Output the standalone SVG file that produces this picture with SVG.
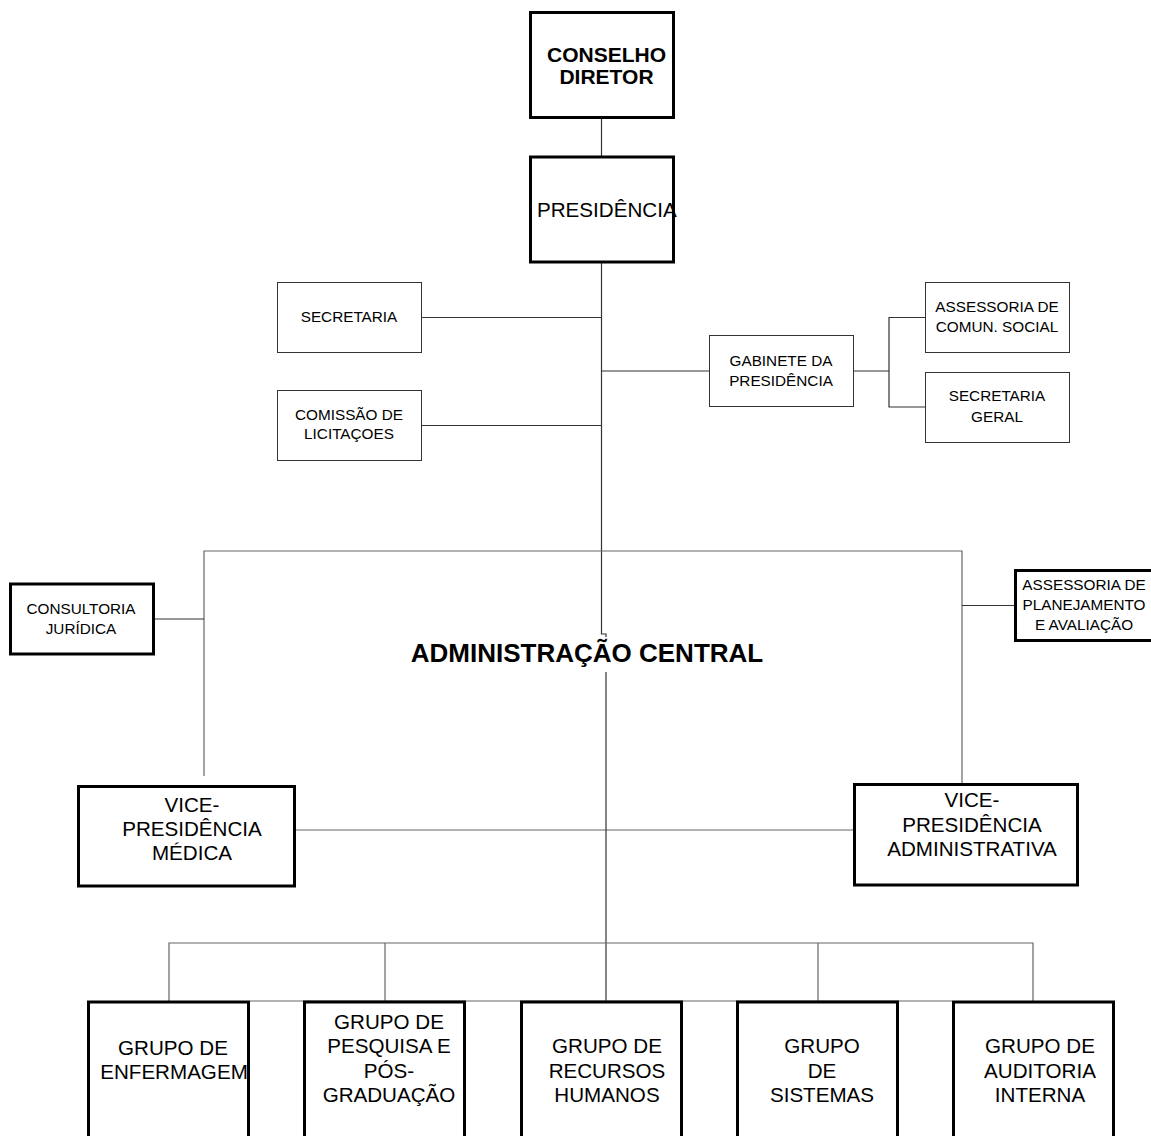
<svg xmlns="http://www.w3.org/2000/svg" width="1151" height="1136" viewBox="0 0 1151 1136">
<style>
text{font-family:"Liberation Sans",Arial,Helvetica,sans-serif;fill:#000;text-anchor:middle}
.s{font-size:15.3px}
.m{font-size:20.6px}
.b{font-weight:bold}
.thick{fill:#fff;stroke:#000;stroke-width:3}
.thin{fill:#fff;stroke:#333;stroke-width:1}
.c{fill:none;stroke:#333;stroke-width:1.2}
.g{fill:none;stroke:#666;stroke-width:1.2}
</style>
<rect width="1151" height="1136" fill="#fff"/>
<g id="connectors">
<path class="c" d="M601.5,118 V156"/>
<path class="c" d="M601.5,263 V634 H606 V637"/>
<path class="c" d="M422,317.5 H601.5"/>
<path class="c" d="M422,425.5 H601.5"/>
<path class="c" d="M601.5,371 H709"/>
<path class="c" d="M854,371 H889"/>
<path class="c" d="M925,317.5 H889 V407 H925"/>
<path class="g" d="M204,776 V551 H962 V783"/>
<path class="c" d="M155,619 H204"/>
<path class="c" d="M962,605.5 H1014"/>
<path class="g" d="M296,830 H853"/>
<path class="c" d="M606,672 V1001"/>
<path class="g" d="M169,1001 V943 H1033 V1001"/>
<path class="g" d="M385,943 V1001"/>
<path class="g" d="M818,943 V1001"/>
<path class="g" d="M250,1001 H952"/>
</g>
<g id="conselho">
<rect class="thick" x="530.5" y="12.5" width="143" height="105"/>
<text class="b" font-size="21" x="606.5" y="62">CONSELHO</text>
<text class="b" font-size="21" x="606.5" y="84">DIRETOR</text>
</g>
<g id="presidencia">
<rect class="thick" x="530.5" y="157" width="143" height="105"/>
<text class="m" x="537" y="217" style="text-anchor:start">PRESIDÊNCIA</text>
</g>
<g id="secretaria">
<rect class="thin" x="277.5" y="282.5" width="144" height="70"/>
<text class="s" x="349" y="322">SECRETARIA</text>
</g>
<g id="comissao">
<rect class="thin" x="277.5" y="390.5" width="144" height="70"/>
<text class="s" x="349" y="420">COMISSÃO DE</text>
<text class="s" x="349" y="439">LICITAÇOES</text>
</g>
<g id="gabinete">
<rect class="thin" x="709.5" y="335.5" width="144" height="71"/>
<text class="s" x="781" y="366">GABINETE DA</text>
<text class="s" x="781" y="386">PRESIDÊNCIA</text>
</g>
<g id="assessoria-comun">
<rect class="thin" x="925.5" y="282.5" width="144" height="70"/>
<text class="s" x="997" y="312">ASSESSORIA DE</text>
<text class="s" x="997" y="332">COMUN. SOCIAL</text>
</g>
<g id="secretaria-geral">
<rect class="thin" x="925.5" y="372.5" width="144" height="70"/>
<text class="s" x="997" y="401">SECRETARIA</text>
<text class="s" x="997" y="421.5">GERAL</text>
</g>
<g id="consultoria">
<rect class="thick" x="10.5" y="584" width="143" height="70"/>
<text class="s" x="81" y="614">CONSULTORIA</text>
<text class="s" x="81" y="633.5">JURÍDICA</text>
</g>
<g id="planejamento">
<rect class="thick" x="1015.5" y="570.5" width="140" height="70"/>
<text class="s" x="1084" y="589.5">ASSESSORIA DE</text>
<text class="s" x="1084" y="609.5">PLANEJAMENTO</text>
<text class="s" x="1084" y="629.5">E AVALIAÇÃO</text>
</g>
<g id="adm-central">
<text class="b" font-size="26" x="587" y="662">ADMINISTRAÇÃO CENTRAL</text>
</g>
<g id="vp-medica">
<rect class="thick" x="78.5" y="786.5" width="216" height="99.5"/>
<text class="m" x="192" y="811.5">VICE-</text>
<text class="m" x="192" y="835.5">PRESIDÊNCIA</text>
<text class="m" x="192" y="860">MÉDICA</text>
</g>
<g id="vp-adm">
<rect class="thick" x="854.5" y="784.5" width="223" height="100.5"/>
<text class="m" x="972" y="807">VICE-</text>
<text class="m" x="972" y="831.5">PRESIDÊNCIA</text>
<text class="m" x="972" y="856">ADMINISTRATIVA</text>
</g>
<g id="enfermagem">
<rect class="thick" x="88.5" y="1002" width="160" height="150"/>
<text class="m" x="173" y="1055">GRUPO DE</text>
<text class="m" x="174" y="1079">ENFERMAGEM</text>
</g>
<g id="pesquisa">
<rect class="thick" x="304.5" y="1002" width="160" height="150"/>
<text class="m" x="389" y="1028.5">GRUPO DE</text>
<text class="m" x="389" y="1053">PESQUISA E</text>
<text class="m" x="389" y="1077.5">PÓS-</text>
<text class="m" x="389" y="1102">GRADUAÇÃO</text>
</g>
<g id="recursos-humanos">
<rect class="thick" x="521.5" y="1002" width="160" height="150"/>
<text class="m" x="607" y="1053">GRUPO DE</text>
<text class="m" x="607" y="1077.5">RECURSOS</text>
<text class="m" x="607" y="1102">HUMANOS</text>
</g>
<g id="sistemas">
<rect class="thick" x="737.5" y="1002" width="160" height="150"/>
<text class="m" x="822" y="1053">GRUPO</text>
<text class="m" x="822" y="1077.5">DE</text>
<text class="m" x="822" y="1102">SISTEMAS</text>
</g>
<g id="auditoria">
<rect class="thick" x="953.5" y="1002" width="160" height="150"/>
<text class="m" x="1040" y="1053">GRUPO DE</text>
<text class="m" x="1040" y="1077.5">AUDITORIA</text>
<text class="m" x="1040" y="1102">INTERNA</text>
</g>
</svg>
